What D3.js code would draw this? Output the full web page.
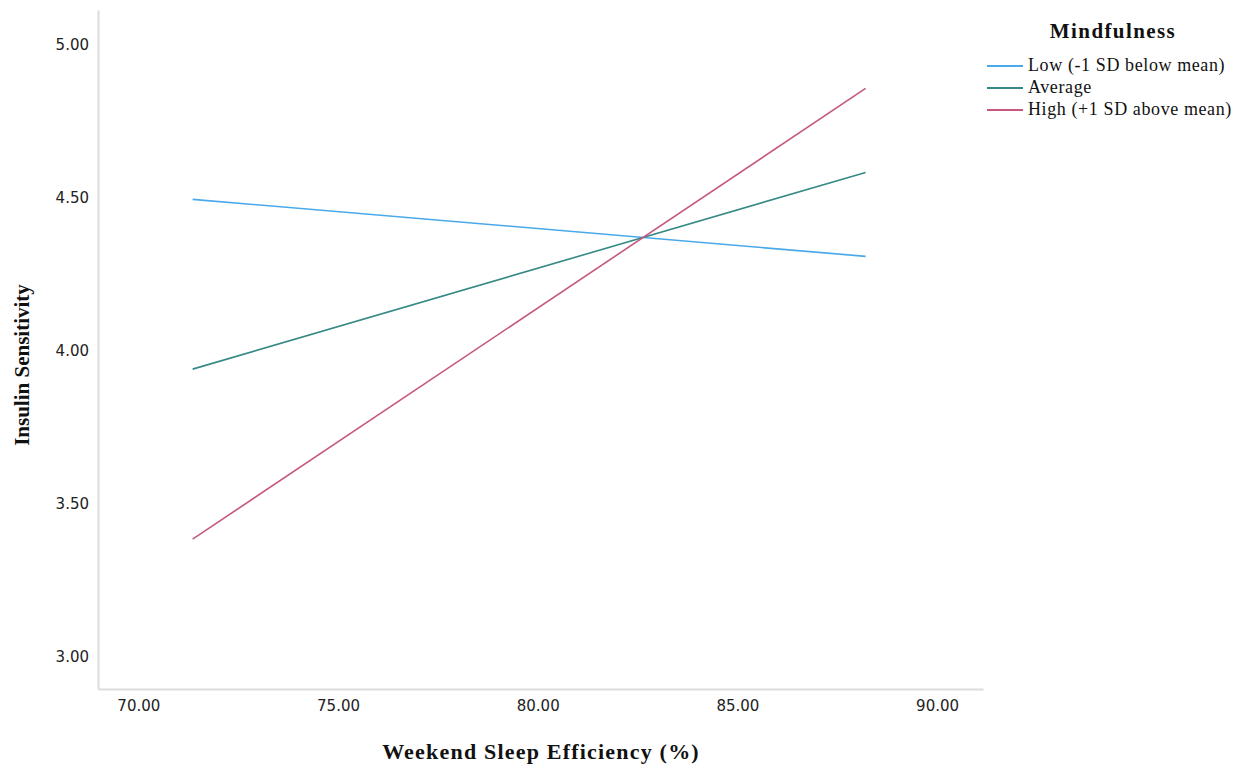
<!DOCTYPE html>
<html><head><meta charset="utf-8">
<script src="https://cdn.jsdelivr.net/npm/d3@7"></script>
<style>body{margin:0;background:#fff}</style>
</head><body>
<script>
const xTicks = [70, 75, 80, 85, 90];
const yTicks = [3.0, 3.5, 4.0, 4.5, 5.0];
const seriesNames = ["Low (-1 SD below mean)", "Average", "High (+1 SD above mean)"];
const xValues = [71.36, 88.21];
const lowValues = [4.494, 4.308];
const avgValues = [3.940, 4.582];
const highValues = [3.385, 4.856];
const colors = ["#4aa9ea", "#358a86", "#c65780"];

const W = 1253, H = 770;
const svg = d3.select("body").append("svg").attr("width", W).attr("height", H);
const x = d3.scaleLinear().domain([68.99, 91.15]).range([98, 983]);
const y = d3.scaleLinear().domain([2.896, 5.112]).range([689, 10]);

// axes
const xa = svg.append("g").attr("transform", "translate(0,689)")
  .call(d3.axisBottom(x).tickValues(xTicks).tickFormat(d3.format(".2f")).tickSize(0).tickPadding(11));
const ya = svg.append("g").attr("transform", "translate(98,0)")
  .call(d3.axisLeft(y).tickValues(yTicks).tickFormat(d3.format(".2f")).tickSize(0).tickPadding(9));
[xa, ya].forEach(a => {
  a.select(".domain").attr("stroke", "#dcdcdc").attr("stroke-width", 2);
  a.selectAll("text").attr("font-family", "DejaVu Sans, sans-serif").attr("font-size", 15).attr("fill", "#222");
});

const series = [lowValues, avgValues, highValues];
const line = d3.line().x((d, i) => x(xValues[i])).y(d => y(d));
series.forEach((s, i) => {
  svg.append("path").datum(s).attr("d", line).attr("fill", "none")
    .attr("stroke", colors[i]).attr("stroke-width", 1.6);
});

// axis titles
svg.append("text").attr("x", 541).attr("y", 759).attr("text-anchor", "middle")
  .attr("font-family", "Liberation Serif, serif").attr("font-weight", "bold").attr("font-size", 22)
  .attr("letter-spacing", 1.2).attr("fill", "#111").text("Weekend Sleep Efficiency (%)");
svg.append("text").attr("transform", "translate(29,365) rotate(-90)").attr("text-anchor", "middle")
  .attr("font-family", "Liberation Serif, serif").attr("font-weight", "bold").attr("font-size", 21)
  .attr("fill", "#111").text("Insulin Sensitivity");

// legend
svg.append("text").attr("x", 1113).attr("y", 38).attr("text-anchor", "middle")
  .attr("font-family", "Liberation Serif, serif").attr("font-weight", "bold").attr("font-size", 21)
  .attr("letter-spacing", 1.4).attr("fill", "#111").text("Mindfulness");
seriesNames.forEach((n, i) => {
  const yy = 66 + i * 22;
  svg.append("line").attr("x1", 987).attr("x2", 1023).attr("y1", yy).attr("y2", yy)
    .attr("stroke", colors[i]).attr("stroke-width", 1.8);
  svg.append("text").attr("x", 1028).attr("y", yy + 5)
    .attr("font-family", "Liberation Serif, serif").attr("font-size", 18)
    .attr("letter-spacing", 0.6).attr("fill", "#111").text(n);
});
</script>
</body></html>
